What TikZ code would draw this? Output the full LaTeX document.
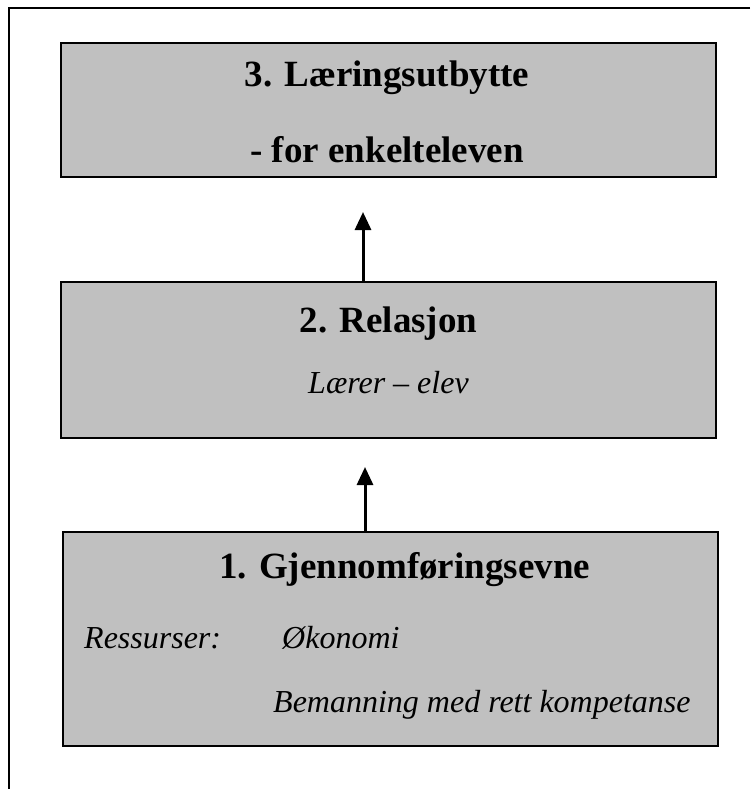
\documentclass[tikz,border=0pt]{standalone}
\usepackage{fontspec}
\setmainfont{Liberation Serif}
\usetikzlibrary{arrows.meta}
\definecolor{boxgray}{HTML}{C0C0C0}
\tikzset{
  panel/.style={draw=black, line width=2pt, fill=boxgray},
  headtext/.style={font=\fontsize{37}{40}\selectfont\bfseries, anchor=base, inner sep=0pt},
  subtext/.style={font=\fontsize{32}{36}\selectfont\itshape, anchor=base west, inner sep=0pt},
  uparrow/.style={line width=3pt, -{Triangle[width=16pt,length=18pt]}},
  frameline/.style={line width=2pt}
}
\begin{document}
\begin{tikzpicture}[x=1pt,y=-1pt]
\useasboundingbox (0,0) rectangle (750,789);
% outer frame (top and left only)
\draw[frameline] (750,8) -- (9,8) -- (9,789);
% boxes
\path[panel] (61,43) rectangle (716,177);
\path[panel] (61,282) rectangle (716,438);
\path[panel] (63,532) rectangle (718,746);
% texts
\node[headtext] (t3a) at (387,87) {3. Læringsutbytte};
\node[headtext] (t3b) at (387,162) {- for enkelteleven};
\node[headtext] (t2a) at (388.5,332) {2. Relasjon};
\node[subtext, anchor=base] (t2b) at (388.5,393) {Lærer – elev};
\node[headtext] (t1a) at (404.5,578) {1. Gjennomføringsevne};
\node[subtext] (r1) at (84,648) {Ressurser:};
\node[subtext] (r2) at (282,648) {Økonomi};
\node[subtext] (r3) at (273,712) {Bemanning med rett kompetanse};
% arrows
\coordinate (b2top) at (363,282);
\coordinate (a1tip) at (363,212);
\coordinate (b1top) at (365,532);
\coordinate (a2tip) at (365,467);
\draw[uparrow] (b2top) -- (a1tip);
\draw[uparrow] (b1top) -- (a2tip);
\end{tikzpicture}
\end{document}
